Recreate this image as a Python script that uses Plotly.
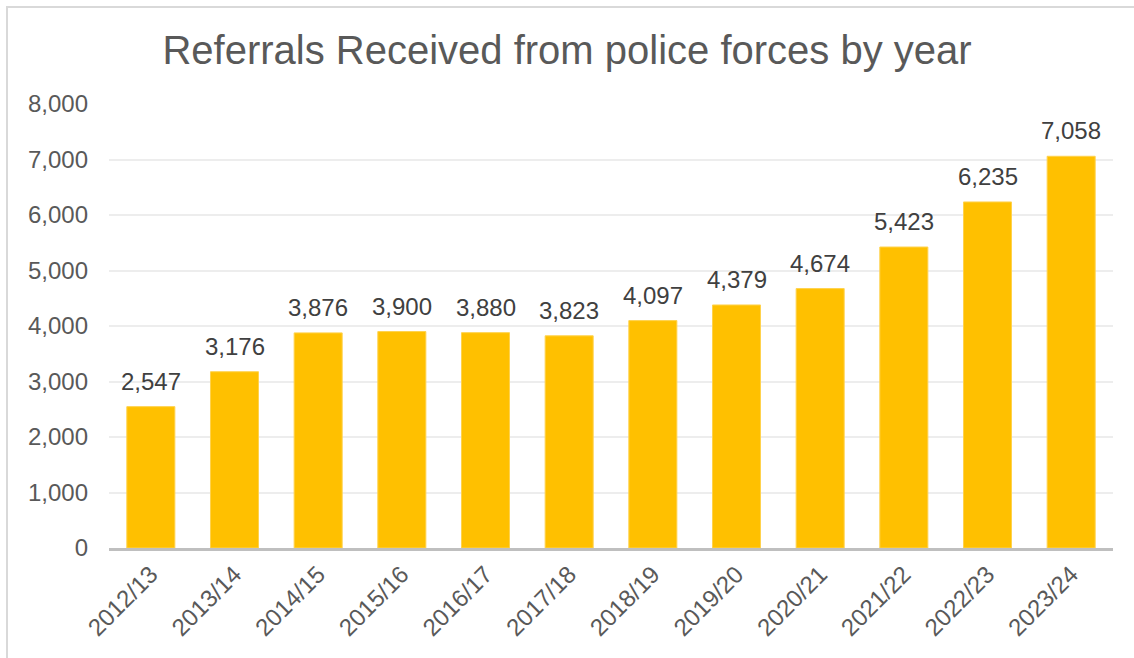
import plotly.graph_objects as go

years = ["2012/13", "2013/14", "2014/15", "2015/16", "2016/17", "2017/18",
         "2018/19", "2019/20", "2020/21", "2021/22", "2022/23", "2023/24"]
referrals = [2547, 3176, 3876, 3900, 3880, 3823, 4097, 4379, 4674, 5423, 6235, 7058]
y_ticks = [0, 1000, 2000, 3000, 4000, 5000, 6000, 7000, 8000]

W, H = 1134, 658
L, R, T, B = 109, 21, 104, 110
pw, ph = W - L - R, H - T - B
FONT = "Liberation Sans, Arial"

fig = go.Figure(go.Bar(
    x=years, y=referrals,
    marker=dict(color="#FFC000", line=dict(color="#FFD24D", width=1)),
))

for yr, v in zip(years, referrals):
    fig.add_annotation(x=yr, y=v, text=f"{v:,}", showarrow=False,
                       xanchor="center", yanchor="bottom", yshift=10,
                       font=dict(family=FONT, size=24, color="#404040"))

def px_x(p):
    return (p - L) / pw

def px_y(p):
    return (H - B - p) / ph

fig.update_layout(
    width=W, height=H,
    margin=dict(l=L, r=R, t=T, b=B),
    paper_bgcolor="white", plot_bgcolor="white",
    bargap=0.426,
    showlegend=False,
    title=dict(text="Referrals Received from police forces by year",
               x=0.5, xanchor="center", y=1 - 50 / H, yanchor="middle",
               font=dict(family=FONT, size=40, color="#595959")),
    font=dict(family=FONT, color="#595959"),
    xaxis=dict(tickangle=-45, tickfont=dict(size=24, color="#595959"),
               showline=True, linecolor="#BFBFBF", linewidth=2.5,
               ticks="", showgrid=False),
    yaxis=dict(range=[0, 8000], tickvals=y_ticks, tickformat=",",
               tickfont=dict(size=24, color="#595959"),
               showgrid=True, gridcolor="#EDEDED", gridwidth=1.5,
               zeroline=False, showline=False, ticks="", ticklabelstandoff=20),
    shapes=[dict(type="rect", xref="paper", yref="paper",
                 x0=px_x(7), x1=px_x(W + 20), y0=px_y(H + 20), y1=px_y(7),
                 line=dict(color="#D9D9D9", width=2), fillcolor="rgba(0,0,0,0)",
                 layer="below")],
)

fig.write_html("out.html")
